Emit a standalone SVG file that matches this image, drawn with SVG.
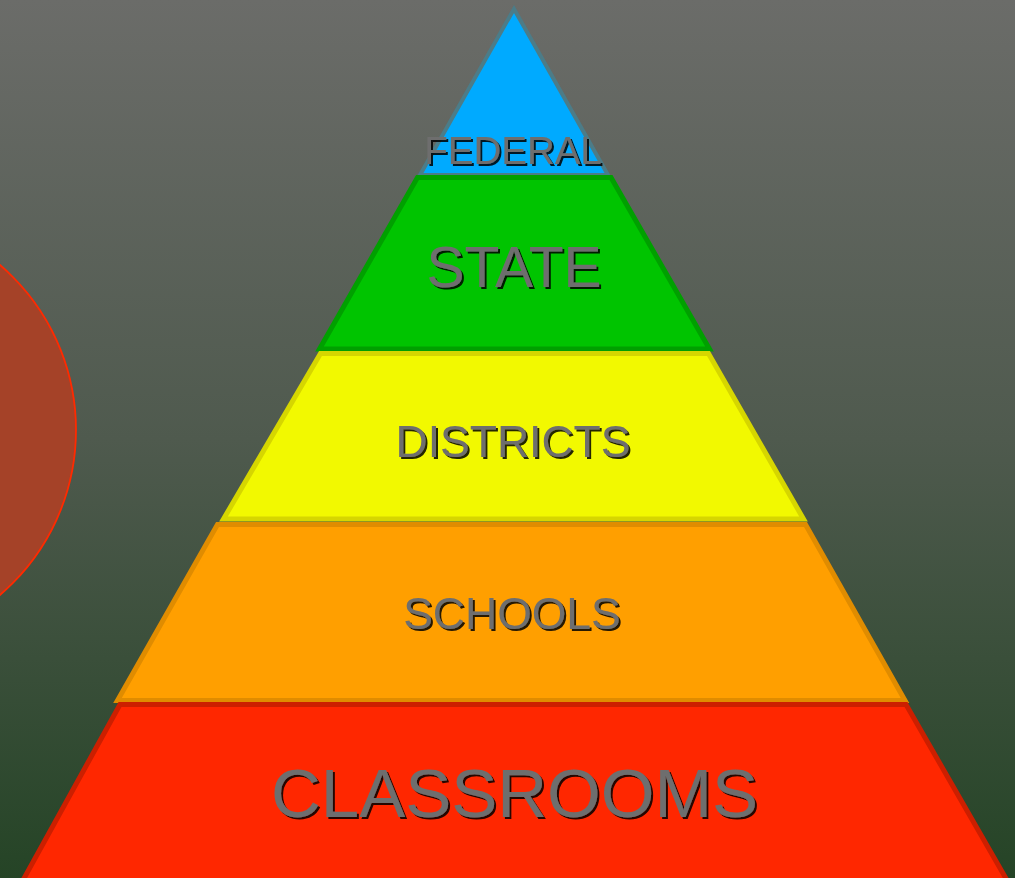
<svg xmlns="http://www.w3.org/2000/svg" width="1015" height="878" viewBox="0 0 1015 878">
  <defs>
    <linearGradient id="bg" x1="0" y1="0" x2="0" y2="1">
      <stop offset="0" stop-color="#6b6c69"/>
      <stop offset="0.5" stop-color="#4f5a4e"/>
      <stop offset="1" stop-color="#254426"/>
    </linearGradient>
    <filter id="shadow" x="-10%" y="-20%" width="120%" height="150%">
      <feDropShadow dx="2" dy="2" stdDeviation="0.3" flood-color="#000" flood-opacity="0.85"/>
    </filter>
  </defs>
  <style>
    .lbl { font-family: "Liberation Sans", Arial, sans-serif; fill: #6e6e6e; text-anchor: middle; filter: url(#shadow); }
    .tier { stroke-width: 5; stroke-linejoin: miter; }
  </style>
  <rect x="0" y="0" width="1015" height="878" fill="url(#bg)"/>
  <circle id="circle" cx="-141" cy="430" r="217" fill="#a54228" stroke="#ff2a00" stroke-width="1.8"/>
  <g id="federal">
    <polygon points="514,9 608,175 420,175" fill="#00aaff" stroke="#4c7c88" stroke-width="4"/>
    <text class="lbl" x="513" y="163.5" font-size="38.5">FEDERAL</text>
  </g>
  <g id="state">
    <polygon class="tier" points="417.5,177.5 611,177.5 709.5,349 319.5,349" fill="#00c400" stroke="#00a000"/>
    <text class="lbl" x="514" y="287" font-size="57">STATE</text>
  </g>
  <g id="districts">
    <polygon class="tier" points="320.5,353.5 708.5,353.5 803.5,519 223.5,519" fill="#f2f900" stroke="#d6d600"/>
    <text class="lbl" x="513" y="457" font-size="44.5">DISTRICTS</text>
  </g>
  <g id="schools">
    <polygon class="tier" points="217.5,524.5 805.5,524.5 905,700.5 117.5,700.5" fill="#ff9f00" stroke="#e08c00"/>
    <text class="lbl" x="512" y="629" font-size="44.5">SCHOOLS</text>
  </g>
  <g id="classrooms">
    <polygon class="tier" points="120,704.5 906,704.5 1008,882 22,882" fill="#ff2700" stroke="#cc1f00"/>
    <text class="lbl" x="514.5" y="817" font-size="69">CLASSROOMS</text>
  </g>
  <g id="connectors"/>
</svg>
